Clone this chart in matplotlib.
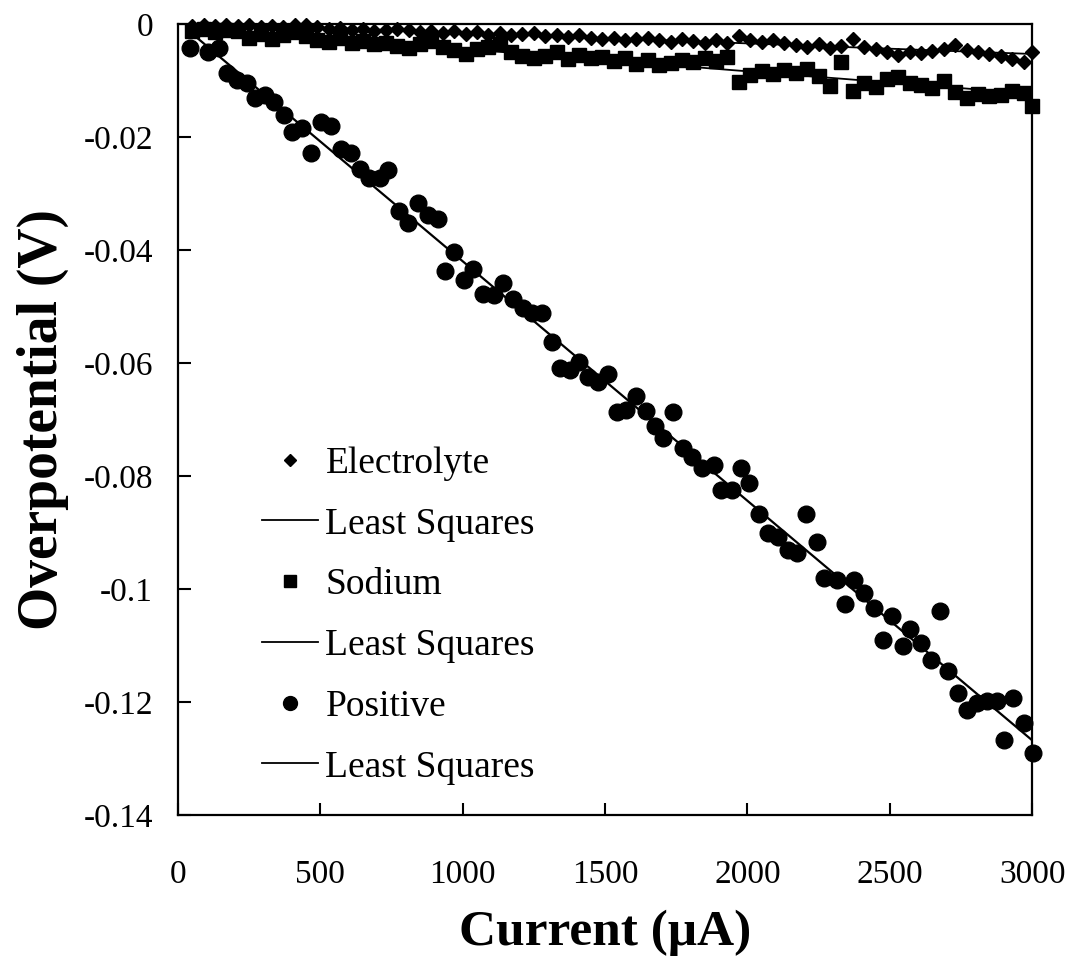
import numpy as np
import matplotlib
matplotlib.use("Agg")
import matplotlib.pyplot as plt
from matplotlib.lines import Line2D

plt.rcParams['font.family'] = ['Liberation Serif', 'DejaVu Serif']
plt.rcParams['axes.unicode_minus'] = False

# Current steps for the electrolyte and sodium electrodes (uA)
i_top = [50, 90, 130, 170, 210, 250, 290, 330, 370, 410, 450, 490, 530, 570, 610,
         650, 690, 730, 770, 810, 850, 890, 930, 970, 1010, 1050, 1090, 1130, 1170,
         1210, 1250, 1290, 1330, 1370, 1410, 1450, 1490, 1530, 1570, 1610, 1650,
         1690, 1730, 1770, 1810, 1850, 1890, 1930, 1970, 2010, 2050, 2090, 2130,
         2170, 2210, 2250, 2290, 2330, 2370, 2410, 2450, 2490, 2530, 2570, 2610,
         2650, 2690, 2730, 2770, 2810, 2850, 2890, 2930, 2970, 3000]

v_electrolyte = [-0.0003, -0.0002, -0.0004, -0.0001, -0.0003, -0.0002, -0.0005, -0.0003,
                 -0.0006, -0.0002, -0.0001, -0.0006, -0.0009, -0.0007, -0.0011, -0.0009,
                 -0.0012, -0.0010, -0.0008, -0.0011, -0.0014, -0.0012, -0.0016, -0.0013,
                 -0.0017, -0.0015, -0.0019, -0.0016, -0.0020, -0.0018, -0.0016, -0.0021,
                 -0.0019, -0.0023, -0.0020, -0.0024, -0.0027, -0.0025, -0.0029, -0.0026,
                 -0.0024, -0.0028, -0.0031, -0.0027, -0.0030, -0.0033, -0.0029, -0.0034,
                 -0.0022, -0.0029, -0.0031, -0.0028, -0.0033, -0.0037, -0.0041, -0.0036,
                 -0.0042, -0.0039, -0.0027, -0.0040, -0.0044, -0.0050, -0.0054, -0.0049,
                 -0.0052, -0.0048, -0.0045, -0.0038, -0.0046, -0.0050, -0.0053, -0.0057,
                 -0.0062, -0.0067, -0.0050]

v_sodium = [-0.0012, -0.0008, -0.0015, -0.0010, -0.0013, -0.0024, -0.0017, -0.0026,
            -0.0020, -0.0015, -0.0022, -0.0028, -0.0032, -0.0025, -0.0034, -0.0030,
            -0.0036, -0.0033, -0.0039, -0.0043, -0.0036, -0.0030, -0.0041, -0.0046,
            -0.0053, -0.0044, -0.0040, -0.0036, -0.0049, -0.0057, -0.0061, -0.0056,
            -0.0050, -0.0062, -0.0055, -0.0060, -0.0058, -0.0065, -0.0061, -0.0070,
            -0.0064, -0.0073, -0.0069, -0.0063, -0.0067, -0.0060, -0.0066, -0.0058,
            -0.0103, -0.0090, -0.0084, -0.0088, -0.0082, -0.0087, -0.0079, -0.0092,
            -0.0109, -0.0067, -0.0118, -0.0104, -0.0112, -0.0098, -0.0094, -0.0104,
            -0.0108, -0.0113, -0.0100, -0.0121, -0.0131, -0.0124, -0.0128, -0.0125,
            -0.0118, -0.0122, -0.0145]

# Positive electrode
i_pos = [42, 105, 144, 172, 207, 242, 270, 306, 337, 372, 400, 436, 467, 502, 537,
         573, 608, 639, 671, 710, 738, 776, 808, 843, 878, 913, 938, 970, 1005, 1036,
         1071, 1110, 1142, 1177, 1212, 1244, 1279, 1314, 1342, 1377, 1409, 1440, 1475,
         1511, 1542, 1574, 1609, 1644, 1676, 1704, 1739, 1774, 1806, 1841, 1883, 1907,
         1946, 1978, 2006, 2041, 2073, 2108, 2143, 2174, 2206, 2245, 2269, 2315, 2343,
         2375, 2410, 2445, 2477, 2508, 2547, 2571, 2610, 2645, 2677, 2705, 2740, 2772,
         2807, 2842, 2877, 2902, 2933, 2972, 3003]

v_pos = [-0.0043, -0.0050, -0.0043, -0.0087, -0.0099, -0.0104, -0.0131, -0.0126, -0.0138,
         -0.0161, -0.0191, -0.0184, -0.0228, -0.0174, -0.0181, -0.0221, -0.0228, -0.0257,
         -0.0273, -0.0273, -0.0258, -0.0331, -0.0352, -0.0317, -0.0338, -0.0345, -0.0437,
         -0.0404, -0.0453, -0.0434, -0.0478, -0.0480, -0.0458, -0.0487, -0.0503, -0.0512,
         -0.0512, -0.0563, -0.0609, -0.0612, -0.0598, -0.0625, -0.0634, -0.0619, -0.0687,
         -0.0683, -0.0658, -0.0685, -0.0712, -0.0733, -0.0687, -0.0750, -0.0766, -0.0786,
         -0.0781, -0.0825, -0.0825, -0.0786, -0.0812, -0.0867, -0.0901, -0.0908, -0.0931,
         -0.0936, -0.0867, -0.0917, -0.0981, -0.0984, -0.1027, -0.0984, -0.1007, -0.1034,
         -0.1090, -0.1048, -0.1101, -0.1071, -0.1096, -0.1126, -0.1039, -0.1145, -0.1184,
         -0.1214, -0.1202, -0.1198, -0.1198, -0.1267, -0.1193, -0.1237, -0.1290]

x_ticks = [0, 500, 1000, 1500, 2000, 2500, 3000]
y_ticks = [0, -0.02, -0.04, -0.06, -0.08, -0.1, -0.12, -0.14]
y_tick_labels = ['0', '-0.02', '-0.04', '-0.06', '-0.08', '-0.1', '-0.12', '-0.14']


def lsq(x, y):
    x = np.asarray(x, float)
    m, b = np.polyfit(x, y, 1)
    xs = np.array([x.min(), x.max()])
    return xs, m * xs + b


fig = plt.figure(figsize=(10.74, 9.61), dpi=100)
ax = fig.add_axes([0.1657, 0.152, 0.7953, 0.823])

ax.plot(i_top, v_electrolyte, 'kD', ms=7.5, zorder=3, clip_on=False)
ax.plot(*lsq(i_top, v_electrolyte), 'k-', lw=1.3, zorder=4)
ax.plot(i_top, v_sodium, 'ks', ms=10.5, zorder=2, clip_on=False)
ax.plot(*lsq(i_top, v_sodium), 'k-', lw=1.3, zorder=4)
ax.plot(i_pos, v_pos, 'ko', ms=12, zorder=2, clip_on=False)
ax.plot(*lsq(i_pos, v_pos), 'k-', lw=1.6, zorder=4)

ax.set_xlim(0, 3000)
ax.set_ylim(-0.14, 0)
ax.set_xticks(x_ticks)
ax.set_yticks(y_ticks)
ax.set_yticklabels(y_tick_labels)
ax.tick_params(direction='in', length=9, width=1.5, labelsize=24, top=False, right=False)
ax.tick_params(axis='x', pad=32)
ax.tick_params(axis='y', pad=18)
for s in ax.spines.values():
    s.set_linewidth(1.6)

ax.set_xlabel('Current (\u03bcA)', fontsize=37, fontweight='bold', labelpad=14)
ax.set_ylabel('Overpotential (V)', fontsize=40, fontweight='bold', labelpad=10)

handles = [
    Line2D([], [], color='k', marker='D', ls='none', ms=6),
    Line2D([], [], color='k', lw=1.3),
    Line2D([], [], color='k', marker='s', ls='none', ms=8),
    Line2D([], [], color='k', lw=1.3),
    Line2D([], [], color='k', marker='o', ls='none', ms=10),
    Line2D([], [], color='k', lw=1.3),
]
labels = ['Electrolyte', 'Least Squares', 'Sodium', 'Least Squares', 'Positive', 'Least Squares']
ax.legend(handles, labels, loc='upper left', bbox_to_anchor=(0.098, 0.466),
          frameon=False, fontsize=27, handlelength=1.5, handletextpad=0.2,
          labelspacing=0.70, borderpad=0, borderaxespad=0)

fig.savefig('out.png', dpi=100)
